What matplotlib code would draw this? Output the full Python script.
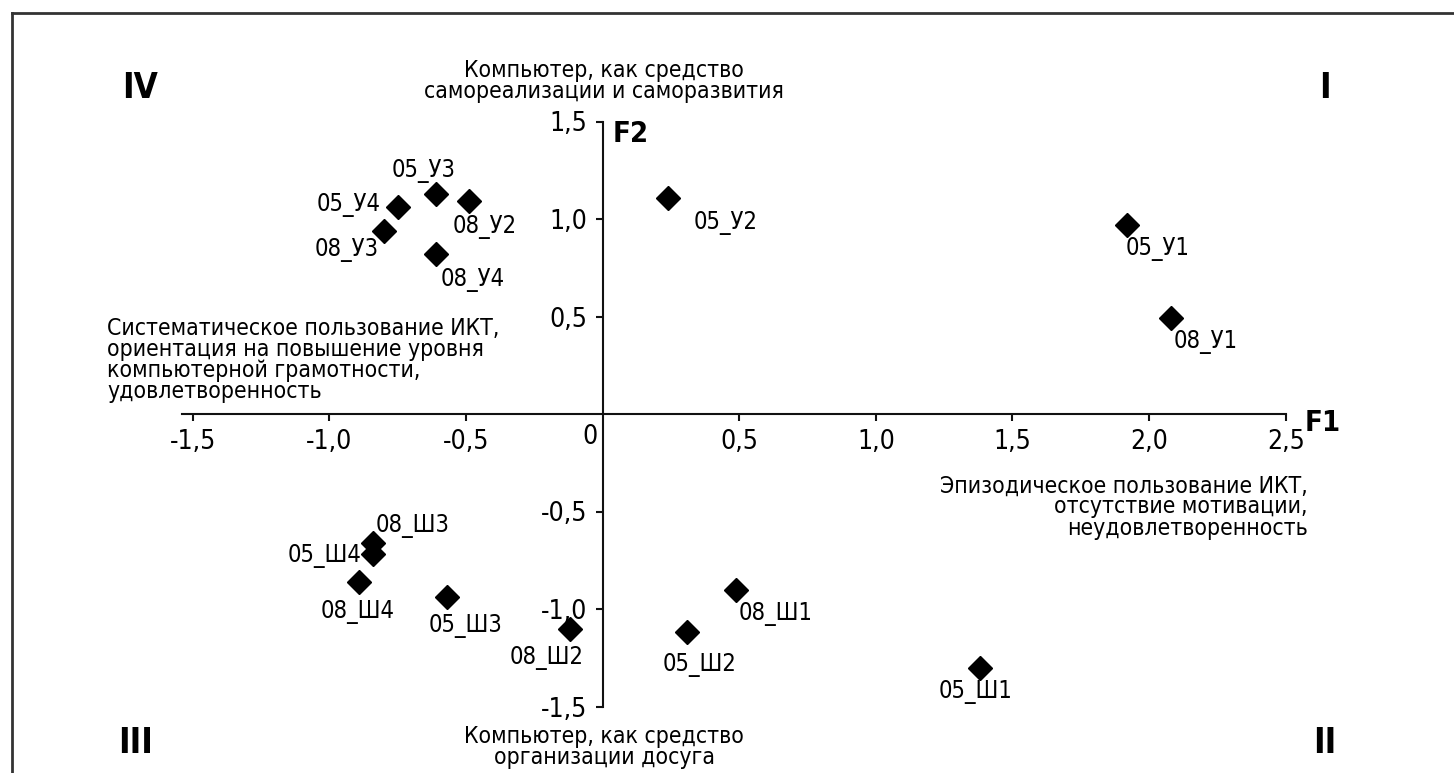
import matplotlib
matplotlib.use("Agg")
import matplotlib.pyplot as plt
from matplotlib.lines import Line2D

# Data: factor scores (F1, F2)
names = ["05_У1", "05_У2", "05_У3", "05_У4",
         "08_У1", "08_У2", "08_У3", "08_У4",
         "05_Ш1", "05_Ш2", "05_Ш3", "05_Ш4",
         "08_Ш1", "08_Ш2", "08_Ш3", "08_Ш4"]
f1 = [1.92, 0.24, -0.61, -0.75,
      2.08, -0.49, -0.80, -0.61,
      1.38, 0.31, -0.57, -0.84,
      0.49, -0.12, -0.84, -0.89]
f2 = [0.97, 1.11, 1.13, 1.06,
      0.49, 1.09, 0.94, 0.82,
      -1.30, -1.12, -0.94, -0.72,
      -0.90, -1.10, -0.66, -0.86]

x_ticks = [-1.5, -1.0, -0.5, 0.5, 1.0, 1.5, 2.0, 2.5]
y_ticks = [-1.5, -1.0, -0.5, 0.5, 1.0, 1.5]

# label placement: (dx, dy) in pixels from marker, and alignment
label_offsets = {
    "05_У1": (30, -24, "center"), "05_У2": (57, -25, "center"),
    "05_У3": (-12, 23, "center"), "05_У4": (-17, 2, "right"),
    "08_У1": (35, -24, "center"), "08_У2": (16, -26, "center"),
    "08_У3": (-5, -19, "right"), "08_У4": (37, -26, "center"),
    "05_Ш1": (-4, -25, "center"), "05_Ш2": (12, -33, "center"),
    "05_Ш3": (19, -29, "center"), "05_Ш4": (-12, -2, "right"),
    "08_Ш1": (39, -24, "center"), "08_Ш2": (-23, -29, "center"),
    "08_Ш3": (40, 17, "center"), "08_Ш4": (-2, -30, "center"),
}

plt.rcParams["font.family"] = ["DejaVu Sans"]
plt.rcParams["font.stretch"] = "condensed"

W, H = 1454, 773
fig = plt.figure(figsize=(W / 100, H / 100), dpi=100)


def px(x, y):
    return x / W, 1 - y / H


# axes rectangle: x -1.54..2.5, y -1.5..1.5
ax = fig.add_axes([181.8 / W, (773 - 706.5) / H, (1285.7 - 181.8) / W, (706.5 - 121.5) / H])
ax.set_xlim(-1.54, 2.5)
ax.set_ylim(-1.5, 1.5)
ax.patch.set_alpha(0)

ax.spines["left"].set_position(("data", 0))
ax.spines["bottom"].set_position(("data", 0))
ax.spines["top"].set_visible(False)
ax.spines["right"].set_visible(False)
for s in ("left", "bottom"):
    ax.spines[s].set_linewidth(1.5)
    ax.spines[s].set_color("#111111")

ax.set_xticks(x_ticks)
ax.set_xticklabels([f"{v:.1f}".replace(".", ",") for v in x_ticks])
ax.set_yticks(y_ticks)
ax.set_yticklabels([f"{v:.1f}".replace(".", ",") for v in y_ticks])
ax.tick_params(axis="both", direction="out", length=5, width=1.5,
               labelsize=19, color="#111111", pad=6)
for lab in ax.get_xticklabels() + ax.get_yticklabels():
    lab.set_fontstretch("condensed")

ax.text(-0.046, -0.118, "0", fontsize=19, ha="center", va="center")

ax.plot(f1, f2, linestyle="none", marker="D", markersize=12,
        color="black", clip_on=False)

for name, x, y in zip(names, f1, f2):
    dx, dy, ha = label_offsets[name]
    ax.annotate(name, (x, y), xytext=(dx, dy), textcoords="offset pixels",
                ha=ha, va="center", fontsize=17)

# descriptive texts around the axes
txt = dict(fontsize=16.5, linespacing=0.9)
fig.text(*px(604, 81), "Компьютер, как средство\nсамореализации и саморазвития",
         ha="center", va="center", **txt)
fig.text(*px(604, 747), "Компьютер, как средство\nорганизации досуга",
         ha="center", va="center", **txt)
fig.text(*px(107, 360), "Систематическое пользование ИКТ,\n"
         "ориентация на повышение уровня\nкомпьютерной грамотности,\nудовлетворенность",
         ha="left", va="center", multialignment="left", **txt)
fig.text(*px(1308, 507), "Эпизодическое пользование ИКТ,\nотсутствие мотивации,\nнеудовлетворенность",
         ha="right", va="center", multialignment="right", **txt)

# quadrant numbers and axis names
quad = dict(fontsize=25, fontweight="bold", ha="center", va="center")
fig.text(*px(140, 88), "IV", **quad)
fig.text(*px(1325, 88), "I", **quad)
fig.text(*px(136, 743), "III", **quad)
fig.text(*px(1325, 743), "II", **quad)

fig.text(*px(1305, 423), "F1", fontsize=21, fontweight="bold", ha="left", va="center")
fig.text(*px(613, 134), "F2", fontsize=21, fontweight="bold", ha="left", va="center")

# frame (top and left edges; the rest runs off the picture)
fig.add_artist(Line2D([12 / W, 12 / W], [0, 1 - 13 / H], transform=fig.transFigure,
                      color="#333333", linewidth=2))
fig.add_artist(Line2D([12 / W, 1], [1 - 13 / H, 1 - 13 / H], transform=fig.transFigure,
                      color="#333333", linewidth=2))

fig.savefig("out.png", dpi=100)
